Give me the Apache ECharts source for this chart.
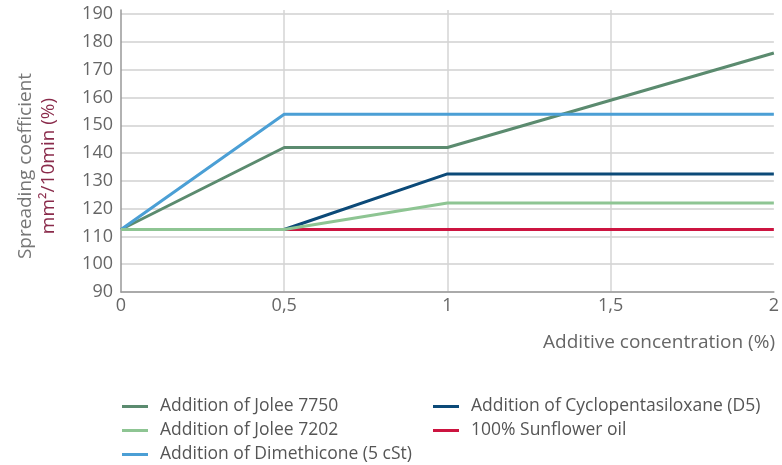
<!DOCTYPE html>
<html><head><meta charset="utf-8">
<script src="https://cdn.jsdelivr.net/npm/echarts@6/dist/echarts.min.js"></script>
<style>html,body{margin:0;padding:0;background:#fff}#c{width:782px;height:465px}</style>
</head><body><div id="c"></div>
<script>
const concentrations = [0, 0.5, 1, 1.5, 2];
const jolee7750 = [112.5, 142, 142, 159, 176];
const jolee7202 = [112.5, 112.5, 122, 122, 122];
const dimethicone = [112.5, 154, 154, 154, 154];
const cyclopentasiloxane = [112.5, 112.5, 132.5, 132.5, 132.5];
const sunflower = [112.5, 112.5, 112.5, 112.5, 112.5];
const yTicks = [90, 100, 110, 120, 130, 140, 150, 160, 170, 180, 190];
const xTickLabels = ['0', '0,5', '1', '1,5', '2'];

const names = {
  j7750: 'Addition of Jolee 7750',
  j7202: 'Addition of Jolee 7202',
  dim: 'Addition of Dimethicone (5 cSt)',
  d5: 'Addition of Cyclopentasiloxane (D5)',
  sun: '100% Sunflower oil'
};
const colors = {j7750:'#5b8b6f', j7202:'#8ec593', dim:'#4b9fd5', d5:'#0c4a78', sun:'#cc1440'};
const FONT = 'Open Sans';
function pairs(v){ return concentrations.map((x,i)=>[x, v[i]]); }
function line(key, vals){
  return {name: names[key], type:'line', data: pairs(vals), symbol:'none',
    lineStyle:{width:3, color: colors[key]}, itemStyle:{color: colors[key]}, animation:false};
}
const chart = echarts.init(document.getElementById('c'));
const legendCommon = {orient:'vertical', itemWidth:26, itemHeight:3, itemGap:1, icon:'rect',
  padding:0, height:90,
  textStyle:{fontFamily:FONT, fontSize:17.5, color:'#555', lineHeight:23, padding:[0,0,0,7]}};
chart.setOption({
  animation:false,
  grid:{left:121, right:8, top:10, bottom:173, containLabel:false},
  xAxis:{type:'value', min:0, max:2, interval:0.5,
    axisLine:{show:true, lineStyle:{color:'#999', width:1.5}},
    axisTick:{show:false},
    axisLabel:{fontFamily:FONT, fontSize:18, color:'#666', margin:5,
      formatter:(v)=>{const i=concentrations.indexOf(v); return i>=0?xTickLabels[i]:'';}},
    splitLine:{show:true, showMinLine:false, showMaxLine:false, lineStyle:{color:'#d4d4d4', width:1.5}}
  },
  yAxis:{type:'value', min:90, max:191.5, interval:10,
    axisLine:{show:true, lineStyle:{color:'#999', width:1.5}},
    axisTick:{show:false},
    axisLabel:{fontFamily:FONT, fontSize:18, color:'#666', margin:8, showMaxLabel:false,
      formatter:(v)=> yTicks.indexOf(v)>=0 ? String(v) : ''},
    splitLine:{show:true, showMaxLine:false, lineStyle:{color:'#d0d0d0', width:1.5}}
  },
  legend:[
    Object.assign({left:122, top:395, data:[names.j7750, names.j7202, names.dim]}, legendCommon),
    Object.assign({left:433, top:395, data:[names.d5, names.sun]}, legendCommon)
  ],
  graphic:[
    {type:'text', right:7, top:333, style:{text:'Additive concentration (%)', fontFamily:FONT, fontSize:19, fill:'#666'}},
    {type:'text', x:37, y:166, rotation:Math.PI/2, style:{
      text:'{a|Spreading coefficient}\n{b|mm²/10min (%)}', align:'center', verticalAlign:'middle',
      rich:{a:{fontFamily:FONT, fontSize:19, fill:'#777', lineHeight:23}, b:{fontFamily:FONT, fontSize:19, fill:'#8a2b4b', lineHeight:23}}
    }}
  ],
  series:[
    line('sun', sunflower),
    line('d5', cyclopentasiloxane),
    line('j7750', jolee7750),
    line('dim', dimethicone),
    line('j7202', jolee7202)
  ]
});
</script></body></html>
